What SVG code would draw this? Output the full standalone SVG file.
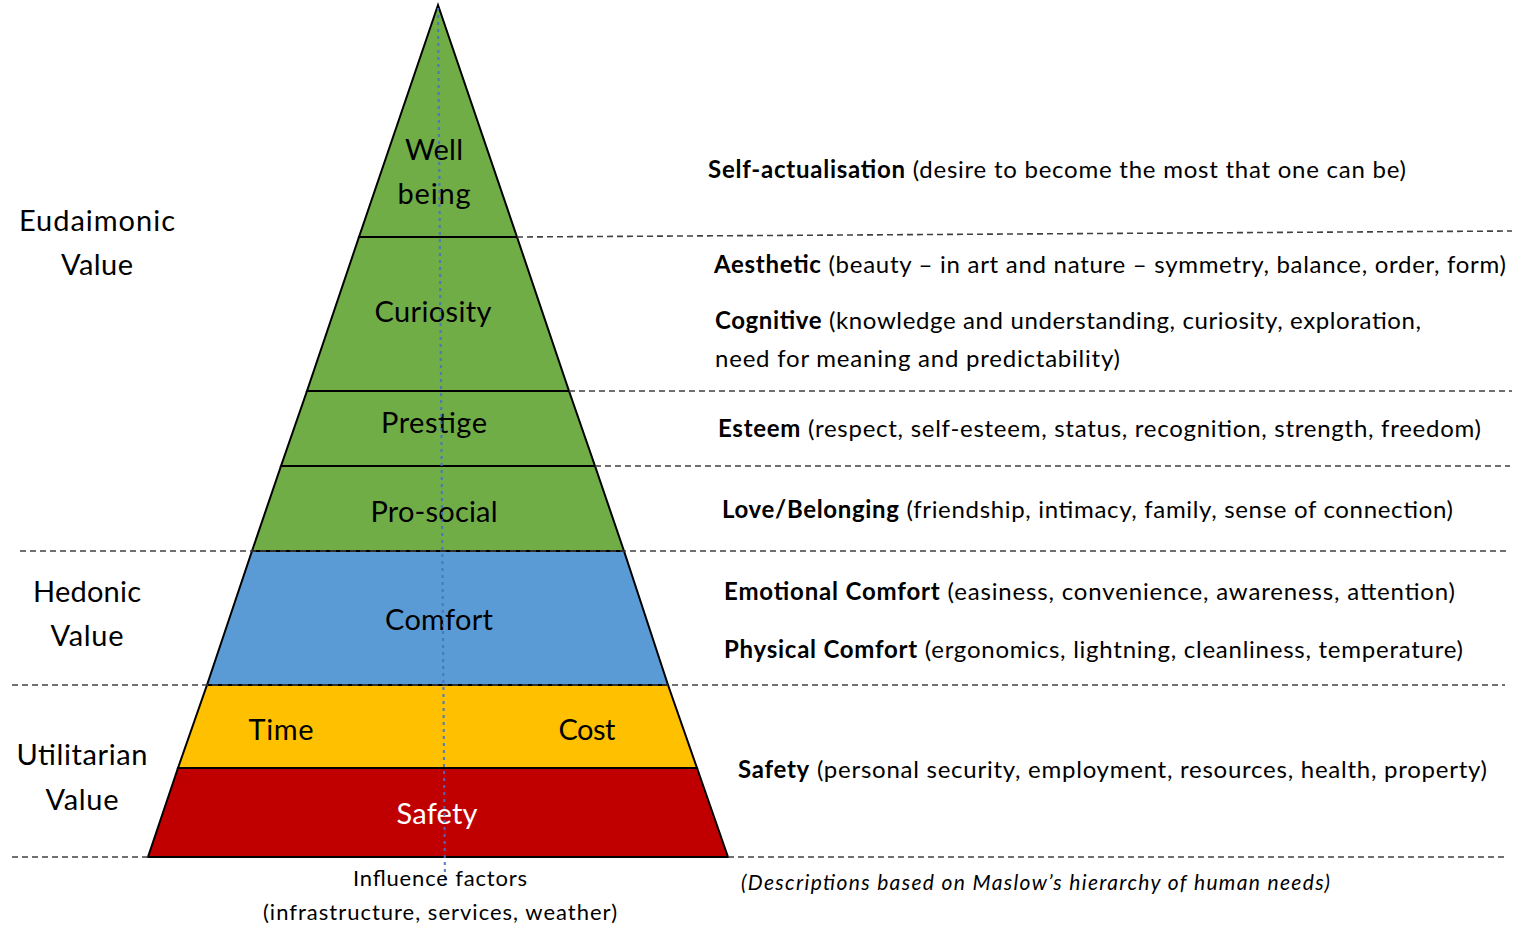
<svg xmlns="http://www.w3.org/2000/svg" width="1524" height="926" viewBox="0 0 1524 926">
  <style>
    text { font-family: Lato, "Open Sans", "Liberation Sans", sans-serif; fill: #000; }
    .lvl { font-size: 29px; text-anchor: middle; }
    .side { font-size: 29px; text-anchor: middle; }
    .desc { font-size: 24px; }
    .desc .b { font-weight: bold; }
    .foot { font-size: 22px; text-anchor: middle; }
    .note { font-size: 21px; font-style: italic; }
    .band { stroke: #000; stroke-width: 2; stroke-linejoin: miter; }
    .sep { stroke: #404040; stroke-width: 1.6; stroke-dasharray: 6 4; fill: none; }
    .axis { stroke: #4472C4; stroke-width: 2.2; stroke-dasharray: 3 4; fill: none; opacity: 0.85; }
  </style>

  <rect width="1524" height="926" fill="#fff"/>

  <!-- pyramid layers -->
  <g id="layer-wellbeing">
    <polygon class="band" points="438,5 517,237 359,237" fill="#70AD47"/>
    <text class="lvl" x="434" y="160" textLength="58">Well</text>
    <text class="lvl" x="434" y="204" textLength="73">being</text>
  </g>
  <g id="layer-curiosity">
    <polygon class="band" points="359,237 517,237 569,391 307,391" fill="#70AD47"/>
    <text class="lvl" x="433" y="322" textLength="117">Curiosity</text>
  </g>
  <g id="layer-prestige">
    <polygon class="band" points="307,391 569,391 595,466 281,466" fill="#70AD47"/>
    <text class="lvl" x="434" y="433" textLength="106">Prestige</text>
  </g>
  <g id="layer-prosocial">
    <polygon class="band" points="281,466 595,466 624,551 252,551" fill="#70AD47"/>
    <text class="lvl" x="434" y="522" textLength="127">Pro-social</text>
  </g>
  <g id="layer-comfort">
    <polygon class="band" points="252,551 624,551 668,685 207,685" fill="#5B9BD5"/>
    <text class="lvl" x="439" y="630" textLength="108">Comfort</text>
  </g>
  <g id="layer-timecost">
    <polygon class="band" points="207,685 668,685 697,768 178,768" fill="#FFC000"/>
    <text class="lvl" x="281" y="740" textLength="65">Time</text>
    <text class="lvl" x="587" y="740" textLength="57">Cost</text>
  </g>
  <g id="layer-safety">
    <polygon class="band" points="178,768 697,768 728,857 148,857" fill="#C00000"/>
    <text class="lvl" x="437" y="824" textLength="81" style="fill:#fff">Safety</text>
  </g>

  <!-- separators and central axis -->
  <g id="connectors">
    <line class="sep" x1="517" y1="237" x2="1512" y2="231"/>
    <line class="sep" x1="569" y1="391" x2="1512" y2="391"/>
    <line class="sep" x1="595" y1="466" x2="1510" y2="466"/>
    <line class="sep" x1="20" y1="551" x2="1510" y2="551"/>
    <line class="sep" x1="12" y1="685" x2="1505" y2="685"/>
    <line class="sep" x1="12" y1="857" x2="148" y2="857"/>
    <line class="sep" x1="728" y1="857" x2="1505" y2="857"/>
    <line class="axis" x1="438" y1="8" x2="445" y2="885"/>
  </g>

  <!-- value categories -->
  <g id="eudaimonic">
    <text class="side" x="97" y="231" textLength="156">Eudaimonic</text>
    <text class="side" x="97" y="275" textLength="72">Value</text>
  </g>
  <g id="hedonic">
    <text class="side" x="87" y="602" textLength="108">Hedonic</text>
    <text class="side" x="87" y="646" textLength="73">Value</text>
  </g>
  <g id="utilitarian">
    <text class="side" x="82" y="765" textLength="131">Utilitarian</text>
    <text class="side" x="82" y="810" textLength="73">Value</text>
  </g>

  <!-- need descriptions -->
  <g id="descriptions" class="desc">
    <text x="708" y="178" textLength="698"><tspan class="b">Self-actualisation</tspan> (desire to become the most that one can be)</text>
    <text x="714" y="273" textLength="792"><tspan class="b">Aesthetic</tspan> (beauty – in art and nature – symmetry, balance, order, form)</text>
    <text x="715" y="329" textLength="706"><tspan class="b">Cognitive</tspan> (knowledge and understanding, curiosity, exploration,</text>
    <text x="715" y="367" textLength="405">need for meaning and predictability)</text>
    <text x="718" y="437" textLength="763"><tspan class="b">Esteem</tspan> (respect, self-esteem, status, recognition, strength, freedom)</text>
    <text x="722" y="518" textLength="731"><tspan class="b">Love/Belonging</tspan> (friendship, intimacy, family, sense of connection)</text>
    <text x="724" y="600" textLength="731"><tspan class="b">Emotional Comfort</tspan> (easiness, convenience, awareness, attention)</text>
    <text x="724" y="658" textLength="739"><tspan class="b">Physical Comfort</tspan> (ergonomics, lightning, cleanliness, temperature)</text>
    <text x="738" y="778" textLength="749"><tspan class="b">Safety</tspan> (personal security, employment, resources, health, property)</text>
  </g>

  <g id="influence">
    <text class="foot" x="440" y="886" textLength="174">Influence factors</text>
    <text class="foot" x="440" y="920" textLength="354">(infrastructure, services, weather)</text>
  </g>
  <g id="source-note">
    <text class="note" x="741" y="890" textLength="589">(Descriptions based on Maslow’s hierarchy of human needs)</text>
  </g>
</svg>
